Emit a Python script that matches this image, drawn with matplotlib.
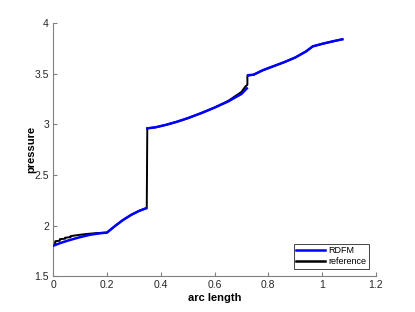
import matplotlib
matplotlib.use("Agg")
import matplotlib.pyplot as plt
import numpy as np

plt.rcParams['font.family'] = ['Liberation Sans', 'DejaVu Sans']

# RDFM (blue) in three pieces
rdfm_x1 = [0.0, 0.03, 0.06, 0.1, 0.14, 0.18, 0.2, 0.23, 0.26, 0.29, 0.32, 0.345]
rdfm_y1 = [1.80, 1.83, 1.855, 1.885, 1.91, 1.925, 1.93, 1.995, 2.055, 2.105, 2.145, 2.17]
rdfm_x2 = [0.35, 0.38, 0.42, 0.46, 0.5, 0.55, 0.6, 0.65, 0.7, 0.72]
rdfm_y2 = [2.96, 2.97, 2.995, 3.025, 3.06, 3.11, 3.165, 3.225, 3.30, 3.355]
rdfm_x3 = [0.725, 0.745, 0.78, 0.82, 0.86, 0.9, 0.94, 0.965, 1.0, 1.04, 1.075]
rdfm_y3 = [3.485, 3.49, 3.535, 3.575, 3.615, 3.66, 3.72, 3.77, 3.795, 3.82, 3.84]

# reference (black)
ref_x = [0.0, 0.008, 0.008, 0.025, 0.025, 0.045, 0.045, 0.065, 0.065, 0.09, 0.12, 0.16, 0.2,
         0.23, 0.26, 0.29, 0.32, 0.345, 0.348, 0.35, 0.38, 0.42, 0.46, 0.5, 0.55, 0.6, 0.65, 0.7,
         0.715, 0.722, 0.722, 0.745, 0.78, 0.82, 0.86, 0.9, 0.94, 0.965, 1.0, 1.04, 1.075]
ref_y = [1.82, 1.825, 1.845, 1.85, 1.865, 1.87, 1.88, 1.885, 1.895, 1.905, 1.915, 1.925, 1.93,
         1.995, 2.055, 2.105, 2.145, 2.17, 2.17, 2.96, 2.97, 2.995, 3.025, 3.06, 3.11, 3.165, 3.23, 3.32,
         3.375, 3.39, 3.48, 3.49, 3.535, 3.575, 3.615, 3.66, 3.72, 3.77, 3.795, 3.82, 3.84]

fig = plt.figure(figsize=(4.15, 3.12), dpi=100)
ax = fig.add_axes([0.128, 0.115, 0.778, 0.811])

ax.plot(ref_x, ref_y, color='black', lw=1.4, zorder=2)
blue = '#0000ff'
h1, = ax.plot(rdfm_x1, rdfm_y1, color=blue, lw=1.8, zorder=3)
ax.plot(rdfm_x2, rdfm_y2, color=blue, lw=1.8, zorder=3)
ax.plot(rdfm_x3, rdfm_y3, color=blue, lw=1.8, zorder=3)
h2, = ax.plot([], [], color='black', lw=1.8)

ax.set_xlim(0, 1.2)
ax.set_ylim(1.5, 4)
ax.set_xticks([0, 0.2, 0.4, 0.6, 0.8, 1, 1.2])
ax.set_xticklabels(['0', '0.2', '0.4', '0.6', '0.8', '1', '1.2'])
ax.set_yticks([1.5, 2, 2.5, 3, 3.5, 4])
ax.set_yticklabels(['1.5', '2', '2.5', '3', '3.5', '4'])

grey = '#808080'
for s in ['top', 'right']:
    ax.spines[s].set_visible(False)
for s in ['left', 'bottom']:
    ax.spines[s].set_color(grey)
    ax.spines[s].set_linewidth(0.8)
ax.tick_params(direction='in', length=3, width=0.8, color=grey, labelsize=7.5,
               labelcolor='#262626', pad=3)

ax.set_xlabel('arc length', fontsize=8, fontweight='bold', labelpad=2)
ax.set_ylabel('pressure', fontsize=8, fontweight='bold', labelpad=-1)

leg = ax.legend([h1, h2], ['RDFM', 'reference'], loc='lower right', fontsize=6.5,
                frameon=True, fancybox=False, edgecolor='#262626', framealpha=1,
                borderaxespad=0.8, handlelength=3.2, handletextpad=0.3,
                borderpad=0.3, labelspacing=0.2)
leg.get_frame().set_linewidth(0.6)

fig.savefig('out.png', dpi=100)
